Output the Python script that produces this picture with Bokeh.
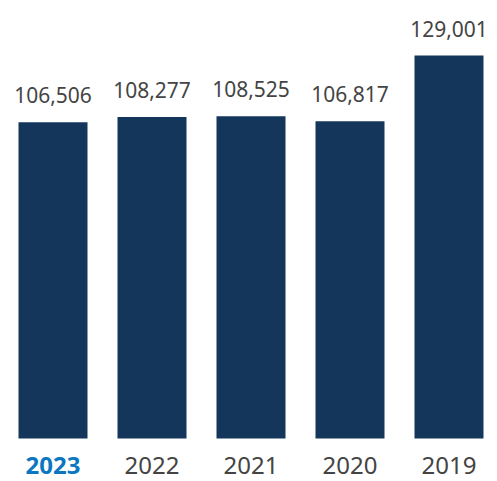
from bokeh.plotting import figure
from bokeh.models import ColumnDataSource, LabelSet, Range1d
from bokeh.core.properties import value
from bokeh.embed import file_html
from bokeh.resources import INLINE

years = ["2023", "2022", "2021", "2020", "2019"]
values = [106506, 108277, 108525, 106817, 129001]
value_labels = ["106,506", "108,277", "108,525", "106,817", "129,001"]
year_colors = ["#0a77c1", "#444444", "#444444", "#444444", "#444444"]
year_styles = ["bold", "normal", "normal", "normal", "normal"]

W, H = 489, 481
base_px = 438          # zero line from frame top
top_px = 55            # max bar top from frame top
units_per_px = max(values) / (base_px - top_px)
y_start = -(H - base_px) * units_per_px
y_end = max(values) + top_px * units_per_px

step_px = 99.0
x_start = -52.5 / step_px
x_end = x_start + W / step_px

xs = list(range(len(years)))
src = ColumnDataSource(dict(x=xs, v=values, lab=value_labels, yr=years,
                            yc=year_colors, ys=year_styles, zero=[0] * len(xs)))

p = figure(width=W, height=H, output_backend="svg", toolbar_location=None,
           x_range=Range1d(x_start, x_end), y_range=Range1d(y_start, y_end),
           min_border=0, min_border_left=0, min_border_right=0,
           min_border_top=0, min_border_bottom=0)
p.axis.visible = False
p.grid.visible = False
p.outline_line_color = None
p.background_fill_color = "white"

p.vbar(x="x", top="v", bottom=0, width=0.697, source=src,
       fill_color="#15365b", line_color=None)

vl = LabelSet(x="x", y="v", text="lab", source=src, y_offset=19,
              text_align="center", text_baseline="alphabetic",
              text_font=value("Noto Sans"), text_font_size="21px",
              text_color="#444444")
yl = LabelSet(x="x", y="zero", text="yr", source=src, y_offset=-35,
              text_align="center", text_baseline="alphabetic",
              text_font=value("Noto Sans"), text_font_size="24px",
              text_color="yc", text_font_style="ys")
p.add_layout(vl)
p.add_layout(yl)

open("out.html", "w").write(file_html(p, INLINE))
